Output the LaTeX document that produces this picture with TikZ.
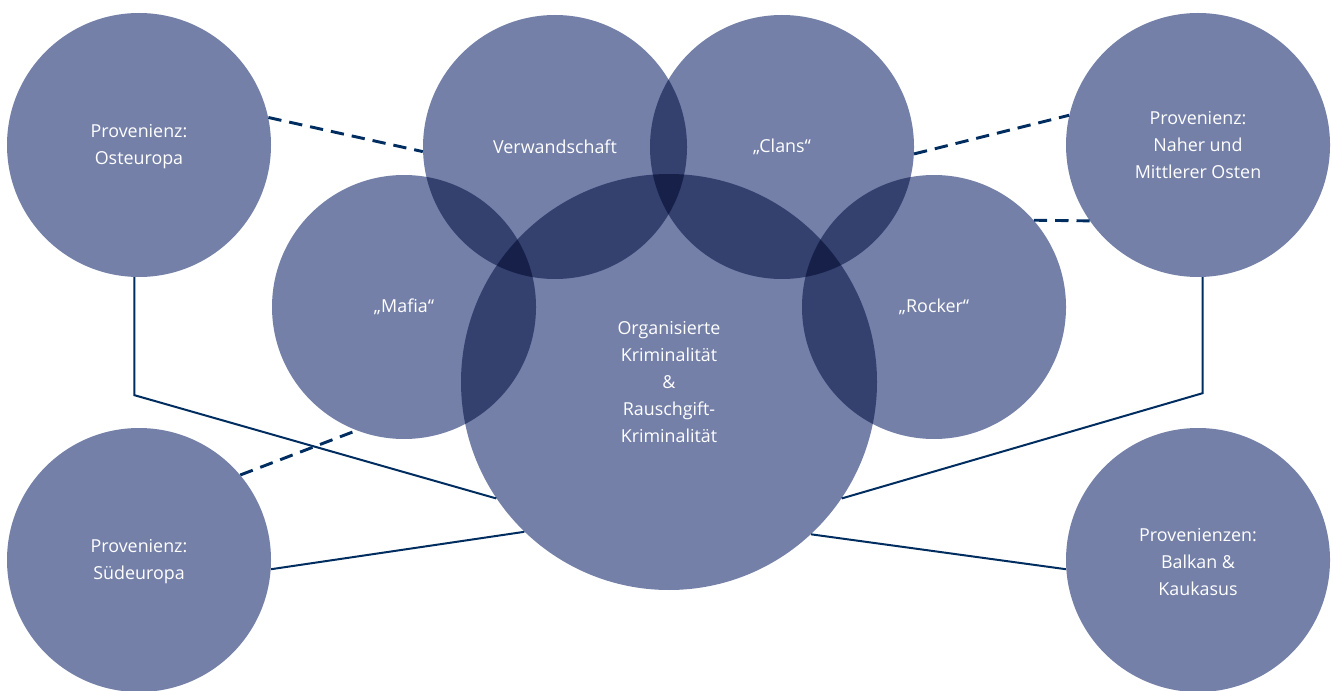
\documentclass[tikz,border=0pt]{standalone}
\usepackage{fontspec}
\setmainfont{Open Sans}
\definecolor{kreisblau}{RGB}{116,128,168}
\definecolor{linienblau}{RGB}{0,45,95}
\begin{document}
\begin{tikzpicture}[x=0.75pt,y=-0.75pt,
    kreis/.style={circle, fill=kreisblau, minimum size=198pt, inner sep=0pt},
    gross/.style={kreis, minimum size=312pt},
    txt/.style={text=white, align=center, font=\fontsize{13.4}{20.25}\selectfont},
    verb/.style={draw=linienblau, line width=1.5pt},
    gestrichelt/.style={verb, line width=2.2pt, dash pattern=on 10pt off 6pt}]
    \useasboundingbox (0,0) rectangle (1333,691);
    % Kreise
    \begin{scope}[blend group=multiply]
        \node [kreis] (oste) at (139,145) {};
        \node [kreis] (verw) at (555,147) {};
        \node [kreis] (clans) at (782,147) {};
        \node [kreis] (naher) at (1198,145) {};
        \node [kreis] (mafia) at (404,307) {};
        \node [kreis] (rocker) at (934,307) {};
        \node [gross] (okrg) at (669,382) {};
        \node [kreis] (sued) at (139,560) {};
        \node [kreis] (balkan) at (1198,560) {};
    \end{scope}
    % Beschriftungen
    \node [txt] (oste-t) at ([yshift=-1.5pt]oste) {Provenienz:\\Osteuropa};
    \node [txt] (verw-t) at (verw) {Verwandschaft};
    \node [txt] (clans-t) at (clans) {„Clans“};
    \node [txt] (naher-t) at (naher) {Provenienz:\\Naher und\\Mittlerer Osten};
    \node [txt] (mafia-t) at (mafia) {„Mafia“};
    \node [txt] (rocker-t) at (rocker) {„Rocker“};
    \node [txt] (okrg-t) at (okrg) {Organisierte\\Kriminalität\\\&\\Rauschgift-\\Kriminalität};
    \node [txt] (sued-t) at ([yshift=-1.5pt]sued) {Provenienz:\\Südeuropa};
    \node [txt] (balkan-t) at ([yshift=-1.5pt]balkan) {Provenienzen:\\Balkan \&\\Kaukasus};
    % Verbindungen
    \draw [gestrichelt] (oste.12) -- (verw.182);
    \draw [gestrichelt] (clans.357) -- (naher.167);
    \draw [gestrichelt] (rocker.41) -- (naher.215);
    \draw [gestrichelt] (sued.40) -- (mafia.249);
    \draw [verb] (oste.268) -- ++(0,118) -- (okrg.214);
    \draw [verb] (sued.356) -- (okrg.226);
    \draw [verb] (naher.272) -- ++(0,116) -- (okrg.326);
    \draw [verb] (okrg.313) -- (balkan.184);
\end{tikzpicture}
\end{document}
